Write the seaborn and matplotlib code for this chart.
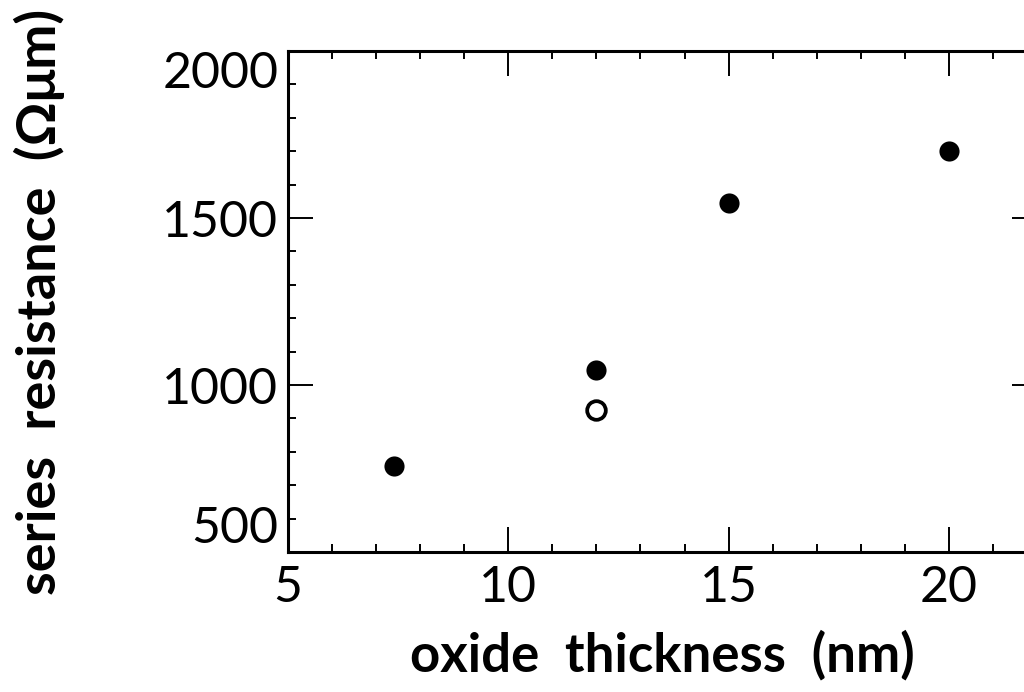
import matplotlib
matplotlib.use("Agg")
import matplotlib.pyplot as plt
import seaborn as sns
import pandas as pd
from matplotlib.ticker import MultipleLocator

# data
filled_thickness = [7.4, 12.0, 15.0, 20.0]
filled_resistance = [757, 1045, 1545, 1700]
open_thickness = [12.0]
open_resistance = [925]

x_ticks = [5, 10, 15, 20]
y_ticks = [500, 1000, 1500, 2000]

sns.set_theme(style="white")
plt.rcParams["font.family"] = ["Lato", "DejaVu Sans"]
plt.rcParams.update({"text.color": "black", "axes.labelcolor": "black",
                     "xtick.color": "black", "ytick.color": "black"})

fig = plt.figure(figsize=(10.24, 6.92), dpi=100)
ax = fig.add_axes([288 / 1024, 1 - 552 / 692, (1037 - 288) / 1024, (552 - 51) / 692])

df_f = pd.DataFrame({"x": filled_thickness, "y": filled_resistance})
df_o = pd.DataFrame({"x": open_thickness, "y": open_resistance})

sns.scatterplot(data=df_f, x="x", y="y", ax=ax, s=210, color="black",
                edgecolor="black", linewidth=0, zorder=3, legend=False)
sns.scatterplot(data=df_o, x="x", y="y", ax=ax, s=180, facecolor="white",
                edgecolor="black", linewidth=2.7, zorder=3, legend=False)

ax.set_xlim(5, 22)
ax.set_ylim(500, 2000)
ax.set_xticks(x_ticks)
ax.set_yticks(y_ticks)
ax.xaxis.set_minor_locator(MultipleLocator(1))
ax.yaxis.set_minor_locator(MultipleLocator(100))

for s in ax.spines.values():
    s.set_linewidth(2.2)
    s.set_color("black")
    s.set_visible(True)

ax.tick_params(which="major", direction="in", length=18, width=1.4, color="black",
               labelcolor="black", top=True, right=True, bottom=True, left=True,
               labelsize=36)
ax.tick_params(which="minor", direction="in", length=5.8, width=1.4, color="black",
               top=True, right=True, bottom=True, left=True)
ax.tick_params(axis="y", pad=7)
ax.tick_params(axis="x", pad=9)

labs = ax.get_yticklabels()
labs[0].set_va("bottom")
labs[-1].set_va("top")

ax.set_xlabel("oxide  thickness  (nm)", fontsize=38, fontweight="bold",
              labelpad=14, color="black")
ax.set_ylabel("series  resistance  (Ωμm)", fontsize=39, fontweight="bold",
              labelpad=70, color="black")
ax.grid(False)

fig.savefig("out.png", dpi=100)
